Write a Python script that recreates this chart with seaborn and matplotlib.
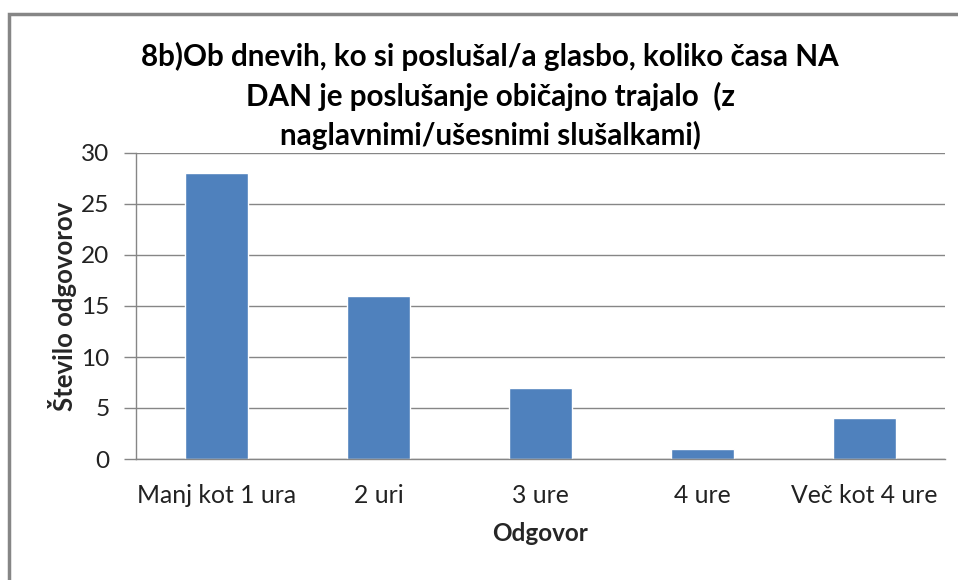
import matplotlib
matplotlib.use("Agg")
import matplotlib.pyplot as plt
import seaborn as sns
import pandas as pd
from matplotlib.patches import Rectangle

categories = ["Manj kot 1 ura", "2 uri", "3 ure", "4 ure", "Več kot 4 ure"]
values = [28, 16, 7, 1, 4]
yticks = [0, 5, 10, 15, 20, 25, 30]

sns.set_theme(style="white")
plt.rcParams['font.family'] = ['Lato', 'DejaVu Sans']

df = pd.DataFrame({"Odgovor": categories, "Število odgovorov": values})

fig = plt.figure(figsize=(9.58, 5.8), dpi=100)
ax = fig.add_axes([136/958, 1-459/580, (945-136)/958, (459-153)/580])

sns.barplot(data=df, x="Odgovor", y="Število odgovorov", color="#4F81BD",
            width=0.39, saturation=1, ax=ax)

ax.set_ylim(0, 30)
ax.set_yticks(yticks)
ax.set_xlim(-0.5, len(categories)-0.5)
ax.yaxis.grid(True, color="#868686", linewidth=1)
ax.set_axisbelow(True)
for s in ["top", "right"]:
    ax.spines[s].set_visible(False)
for s in ["left", "bottom"]:
    ax.spines[s].set_color("#868686")
    ax.spines[s].set_linewidth(1)
ax.tick_params(axis="y", left=True, length=9, width=1, color="#868686",
               labelsize=17.6, pad=10, labelcolor="#222222")
ax.tick_params(axis="x", bottom=False, labelsize=17.8, pad=12, labelcolor="#222222")
ax.set_xlabel("Odgovor", fontsize=17.5, fontweight="bold", labelpad=11)
ax.set_ylabel("Število odgovorov", fontsize=18.5, fontweight="bold", labelpad=3)

fig.text(490/958, 1-96/580,
         "8b)Ob dnevih, ko si poslušal/a glasbo, koliko časa NA\n"
         "DAN je poslušanje običajno trajalo  (z\n"
         "naglavnimi/ušesnimi slušalkami)",
         ha="center", va="center", fontsize=21.3, fontweight="bold",
         linespacing=1.43, color="#000000")

fig.patches.append(Rectangle((9/958, -0.1), 1.0, 1-14/580+0.1,
                             transform=fig.transFigure, fill=False,
                             edgecolor="#868686", linewidth=2.5))

fig.savefig("out.png", dpi=100)
